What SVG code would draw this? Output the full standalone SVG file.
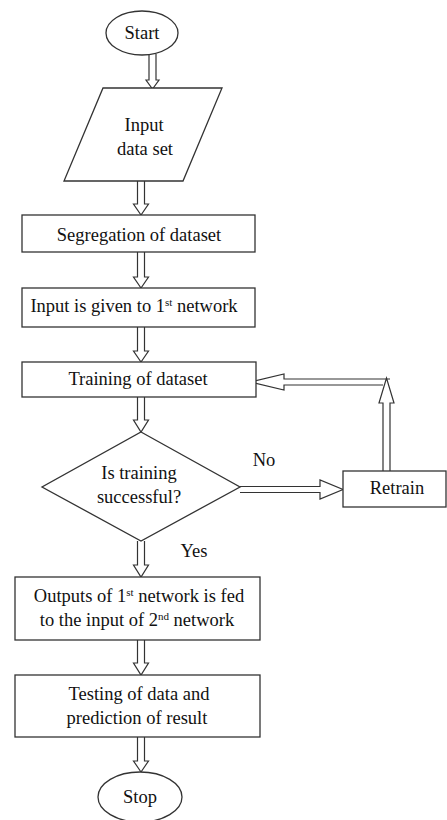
<svg xmlns="http://www.w3.org/2000/svg" width="447" height="820" viewBox="0 0 447 820">
<style>
.shape{fill:#fff;stroke:#333;stroke-width:1.3}
.arr{fill:#fff;stroke:#333;stroke-width:1.2;stroke-linejoin:miter}
text{font-family:"Liberation Serif","Times New Roman",serif;font-size:18.5px;fill:#111;text-anchor:middle}
.sup{font-size:11px}
</style>
<rect width="447" height="820" fill="#fff"/>
<g id="connectors">
<path class="arr" d="M149,54 L149,80 L146,80 L152.5,89 L159,80 L156,80 L156,54"/>
<path class="arr" d="M137.5,181 L137.5,204 L133.5,204 L141,215 L148.5,204 L144.5,204 L144.5,181"/>
<path class="arr" d="M137.5,252 L137.5,277 L133.5,277 L141,288 L148.5,277 L144.5,277 L144.5,252"/>
<path class="arr" d="M137.5,327 L137.5,351 L133.5,351 L141,362 L148.5,351 L144.5,351 L144.5,327"/>
<path class="arr" d="M137.5,397 L137.5,420 L133.5,420 L141,432 L148.5,420 L144.5,420 L144.5,397"/>
<path class="arr" d="M137.5,541 L137.5,565 L133.5,565 L141,577 L148.5,565 L144.5,565 L144.5,541"/>
<path class="arr" d="M137.5,640 L137.5,663 L133.5,663 L141,675 L148.5,663 L144.5,663 L144.5,640"/>
<path class="arr" d="M137.5,737 L137.5,761 L133.5,761 L141,772 L148.5,761 L144.5,761 L144.5,737"/>
<path class="arr" d="M240,486.5 L320,486.5 L320,480 L343,489.5 L320,499 L320,492.5 L240,492.5"/>
<path class="arr" d="M390,379 L284,379 L284,374 L250,382 L284,390 L284,385 L383,385"/>
<path class="arr" d="M383,471 L383,403 L379,403 L386.5,378 L394,403 L390,403 L390,471"/>
</g>
<g id="start">
<ellipse class="shape" cx="142" cy="33" rx="36" ry="22"/>
<text x="142" y="39">Start</text>
</g>
<g id="input">
<polygon class="shape" points="103,88 222,88 183,181 64,181"/>
<text x="144" y="131">Input</text>
<text x="145" y="155">data set</text>
</g>
<g id="segregation">
<rect class="shape" x="22" y="215" width="233" height="37"/>
<text x="139" y="241">Segregation of dataset</text>
</g>
<g id="given">
<rect class="shape" x="22" y="288" width="233" height="39"/>
<text x="134" y="312">Input is given to 1<tspan class="sup" dy="-6">st</tspan><tspan dy="6"> network</tspan></text>
</g>
<g id="training">
<rect class="shape" x="22" y="362" width="234" height="35"/>
<text x="138" y="385">Training of dataset</text>
</g>
<g id="decision">
<polygon class="shape" points="141,432 240,487 141,541 42,487"/>
<text x="139" y="479">Is training</text>
<text x="139" y="503">successful?</text>
</g>
<g id="retrain">
<rect class="shape" x="343" y="471" width="103" height="36"/>
<text x="397" y="494">Retrain</text>
</g>
<g id="labels">
<text x="264" y="466">No</text>
<text x="194" y="557">Yes</text>
</g>
<g id="outputs">
<rect class="shape" x="15" y="577" width="245" height="63"/>
<text x="139" y="602">Outputs of 1<tspan class="sup" dy="-6">st</tspan><tspan dy="6"> network is fed</tspan></text>
<text x="137" y="626">to the input of 2<tspan class="sup" dy="-6">nd</tspan><tspan dy="6"> network</tspan></text>
</g>
<g id="testing">
<rect class="shape" x="15" y="675" width="245" height="62"/>
<text x="139" y="700">Testing of data and</text>
<text x="137" y="724">prediction of result</text>
</g>
<g id="stop">
<ellipse class="shape" cx="140" cy="797" rx="42" ry="25"/>
<text x="140" y="803">Stop</text>
</g>
</svg>
